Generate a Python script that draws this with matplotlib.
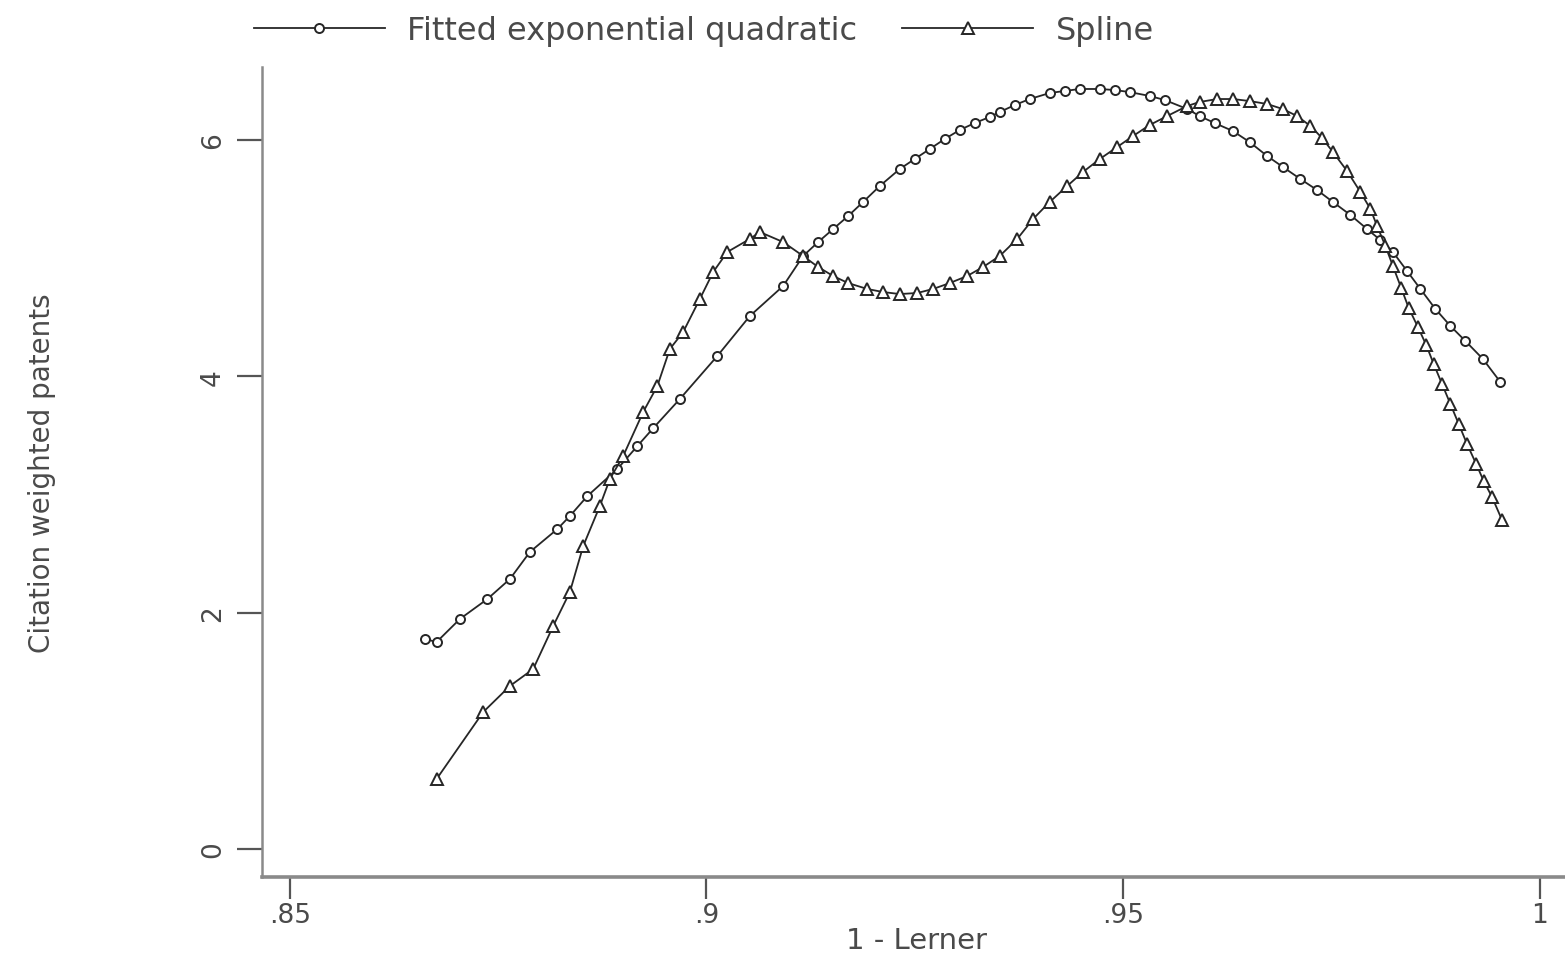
import matplotlib
matplotlib.use("Agg")
import matplotlib.pyplot as plt

# ---------------- data ----------------
fitted_x = [0.8662, 0.8676, 0.8704, 0.8737, 0.8764, 0.8788, 0.8821, 0.8836, 0.8857,
            0.8893, 0.8917, 0.8936, 0.8968, 0.9013, 0.9052, 0.9092,
            0.9116, 0.9134, 0.9152, 0.9170, 0.9188, 0.9208, 0.9232, 0.9250, 0.9268,
            0.9286, 0.9304, 0.9322, 0.9340, 0.9352, 0.9370, 0.9388, 0.9412, 0.9430,
            0.9448, 0.9472, 0.9490, 0.9508, 0.9532, 0.9550, 0.9577, 0.9592, 0.9610,
            0.9632, 0.9652, 0.9673, 0.9692, 0.9713, 0.9733, 0.9752, 0.9773, 0.9793,
            0.9809, 0.9824, 0.9841, 0.9857, 0.9875, 0.9893, 0.9911, 0.9932, 0.9953]
fitted_y = [1.777, 1.751, 1.946, 2.115, 2.284, 2.513, 2.707, 2.817, 2.986,
            3.215, 3.409, 3.560, 3.807, 4.171, 4.509, 4.763,
            5.017, 5.135, 5.245, 5.355, 5.474, 5.609, 5.753, 5.838, 5.922,
            6.007, 6.083, 6.142, 6.193, 6.235, 6.294, 6.345, 6.396, 6.413,
            6.430, 6.430, 6.421, 6.404, 6.371, 6.337, 6.261, 6.201, 6.142,
            6.074, 5.981, 5.863, 5.770, 5.668, 5.575, 5.474, 5.364, 5.245,
            5.152, 5.051, 4.890, 4.738, 4.569, 4.425, 4.298, 4.146, 3.951]

spline_x = [0.8676, 0.8732, 0.8764, 0.8792, 0.8816, 0.8836, 0.8852, 0.8872, 0.8884,
            0.8900, 0.8924, 0.8941, 0.8956, 0.8972, 0.8992, 0.9008, 0.9025, 0.9052,
            0.9064, 0.9092,
            0.9116, 0.9134, 0.9152, 0.9170, 0.9193, 0.9212, 0.9232, 0.9253, 0.9272,
            0.9292, 0.9313, 0.9332, 0.9352, 0.9373, 0.9392, 0.9412, 0.9433, 0.9452,
            0.9472, 0.9493, 0.9512, 0.9532, 0.9553, 0.9577, 0.9592, 0.9613, 0.9632,
            0.9652, 0.9673, 0.9692, 0.9709, 0.9725, 0.9739, 0.9752, 0.9769, 0.9785,
            0.9797, 0.9805, 0.9815, 0.9824, 0.9834, 0.9843, 0.9854, 0.9864, 0.9873,
            0.9883, 0.9893, 0.9903, 0.9913, 0.9924, 0.9933, 0.9943, 0.9955]
spline_y = [0.592, 1.159, 1.379, 1.523, 1.887, 2.174, 2.563, 2.902, 3.130,
            3.325, 3.697, 3.917, 4.230, 4.374, 4.653, 4.881, 5.051, 5.161,
            5.220, 5.135,
            5.017, 4.924, 4.848, 4.788, 4.738, 4.712, 4.695, 4.704, 4.738,
            4.788, 4.848, 4.924, 5.017, 5.161, 5.330, 5.474, 5.609, 5.728,
            5.837, 5.939, 6.032, 6.125, 6.201, 6.286, 6.320, 6.345, 6.345,
            6.328, 6.303, 6.260, 6.201, 6.117, 6.015, 5.897, 5.736, 5.558,
            5.415, 5.271, 5.102, 4.932, 4.746, 4.577, 4.416, 4.264, 4.103,
            3.934, 3.765, 3.596, 3.426, 3.257, 3.113, 2.978, 2.783]

series_labels = ["Fitted exponential quadratic", "Spline"]
x_ticks = [0.85, 0.90, 0.95, 1.00]
x_tick_labels = [".85", ".9", ".95", "1"]
y_ticks = [0, 2, 4, 6]
y_tick_labels = ["0", "2", "4", "6"]
x_title = "1 - Lerner"
y_title = "Citation weighted patents"

# ---------------- style ----------------
plt.rcParams["font.family"] = ["DejaVu Sans"]

text_col = "#4a4a4a"
line_col = "#262626"
axis_col = "#8a8a8a"

W, H = 1565, 962
fig = plt.figure(figsize=(W / 100, H / 100), dpi=100)
fig.patch.set_facecolor("white")
ax = fig.add_axes([262 / W, 1 - 878 / H, (1565 - 262) / W, (878 - 68) / H])

l1, = ax.plot(fitted_x, fitted_y, color=line_col, lw=1.3, marker="o", ms=6.5,
              mfc="white", mec=line_col, mew=1.4, label=series_labels[0])
l2, = ax.plot(spline_x, spline_y, color=line_col, lw=1.3, marker="^", ms=8.5,
              mfc="white", mec=line_col, mew=1.4, label=series_labels[1])

ax.set_xlim(0.84664, 1.00306)
ax.set_ylim(-0.237, 6.616)

for s in ["top", "right"]:
    ax.spines[s].set_visible(False)
ax.spines["left"].set_color(axis_col)
ax.spines["left"].set_linewidth(1.8)
ax.spines["bottom"].set_color(axis_col)
ax.spines["bottom"].set_linewidth(2.6)

ax.set_xticks(x_ticks)
ax.set_xticklabels(x_tick_labels)
ax.set_yticks(y_ticks)
ax.set_yticklabels(y_tick_labels, rotation=90, va="center")
ax.tick_params(axis="x", length=16, width=1.6, color="#555555", labelsize=19,
               labelcolor=text_col, pad=2)
ax.tick_params(axis="y", length=18, width=1.6, color="#555555", labelsize=19,
               labelcolor=text_col, pad=8)

ax.set_xlabel(x_title, fontsize=21, color=text_col)
ax.xaxis.set_label_coords((917 - 262) / 1303, (878 - 927) / 810)
ax.set_ylabel(y_title, fontsize=20, color=text_col)
ax.yaxis.set_label_coords((56 - 262) / 1303, 0.5)

leg = fig.legend(handles=[l1, l2], labels=series_labels, loc="upper left",
                 bbox_to_anchor=(238 / W, 1.0), ncol=2, frameon=False,
                 fontsize=23, handlelength=4.1, handletextpad=0.7,
                 columnspacing=1.4, borderaxespad=0.1)
for t in leg.get_texts():
    t.set_color(text_col)

fig.savefig("out.png", dpi=100, facecolor="white")
